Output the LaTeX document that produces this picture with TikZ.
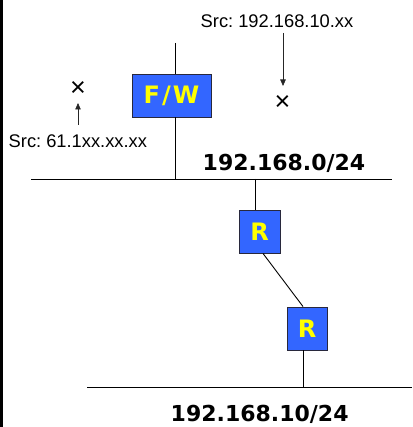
\documentclass[tikz,border=0pt]{standalone}
\usepackage{fontspec}
\setmainfont{Liberation Sans}
\newfontfamily\labfont{DejaVu Sans}
\usetikzlibrary{arrows.meta}
\frenchspacing
\definecolor{devblue}{RGB}{51,102,255}
\definecolor{devedge}{RGB}{40,40,60}
\definecolor{devtext}{RGB}{255,255,0}
\tikzset{
  device/.style={draw=devedge, line width=0.9pt, fill=devblue, inner sep=0pt,
    text=devtext, font=\labfont\fontsize{24}{28}\selectfont\bfseries},
  wire/.style={line width=0.9pt, black},
  netlabel/.style={inner sep=0pt, anchor=base west, font=\labfont\fontsize{22}{26}\selectfont\bfseries},
  srclabel/.style={inner sep=0pt, anchor=base west, font=\fontsize{18.3}{22}\selectfont},
  blocked/.style={inner sep=0pt, anchor=base, font=\fontsize{27}{30}\selectfont},
  probe/.style={line width=0.7pt, black!85, -{Triangle[length=6.5pt,width=5.5pt]}}
}
\begin{document}
\begin{tikzpicture}[x=1pt,y=-1pt]
\useasboundingbox (0,0) rectangle (412,427);
% frame edge on the left
\fill[black] (0,0) rectangle (2.7,427);

% devices
\node[device, minimum width=79pt, minimum height=43pt] (fw) at (171.5,95.5) {F\kern2pt/\kern2pt W};
\node[device, minimum width=41pt, minimum height=43pt] (r1) at (259.5,231.5) {R};
\node[device, minimum width=40pt, minimum height=43pt] (r2) at (307,328.5) {R};

% network segments
\coordinate (lanAw) at (31,179);
\coordinate (lanAe) at (392,179);
\coordinate (lanBw) at (87,387);
\coordinate (lanBe) at (412,387);
\draw[wire] (lanAw) -- (lanAe);
\draw[wire] (lanBw) -- (lanBe);

% uplink through the firewall
\coordinate (up) at (175.3,43);
\draw[wire] (up) -- (up |- fw.north);
\draw[wire] (up |- fw.south) -- (up |- lanAw);

% router chain
\coordinate (r1tap) at (255,179);
\draw[wire] (r1tap) -- (r1tap |- r1.north);
\draw[wire] ([xshift=3.5pt]r1.south) -- ([xshift=-4pt]r2.north);
\coordinate (r2tap) at (303,387);
\draw[wire] (r2tap |- r2.south) -- (r2tap);

% network labels
\node[netlabel] (netA) at (202.5,171) {192.168.0/24};
\node[netlabel] (netB) at (170.5,421) {192.168.10/24};

% spoofed sources, dropped
\node[srclabel] (srcL) at (8.5,147.7) {Src: 61.1xx.xx.xx};
\node[blocked] (xL) at (78,96.5) {×};
\coordinate (pLs) at (78,125);
\coordinate (pLe) at (78,103);
\draw[probe] (pLs) -- (pLe);

\node[srclabel] (srcR) at (200.5,27.5) {Src: 192.168.10.xx};
\node[blocked] (xR) at (282.5,111) {×};
\coordinate (pRs) at (283,33);
\coordinate (pRe) at (283,86);
\draw[probe] (pRs) -- (pRe);
\end{tikzpicture}
\end{document}
